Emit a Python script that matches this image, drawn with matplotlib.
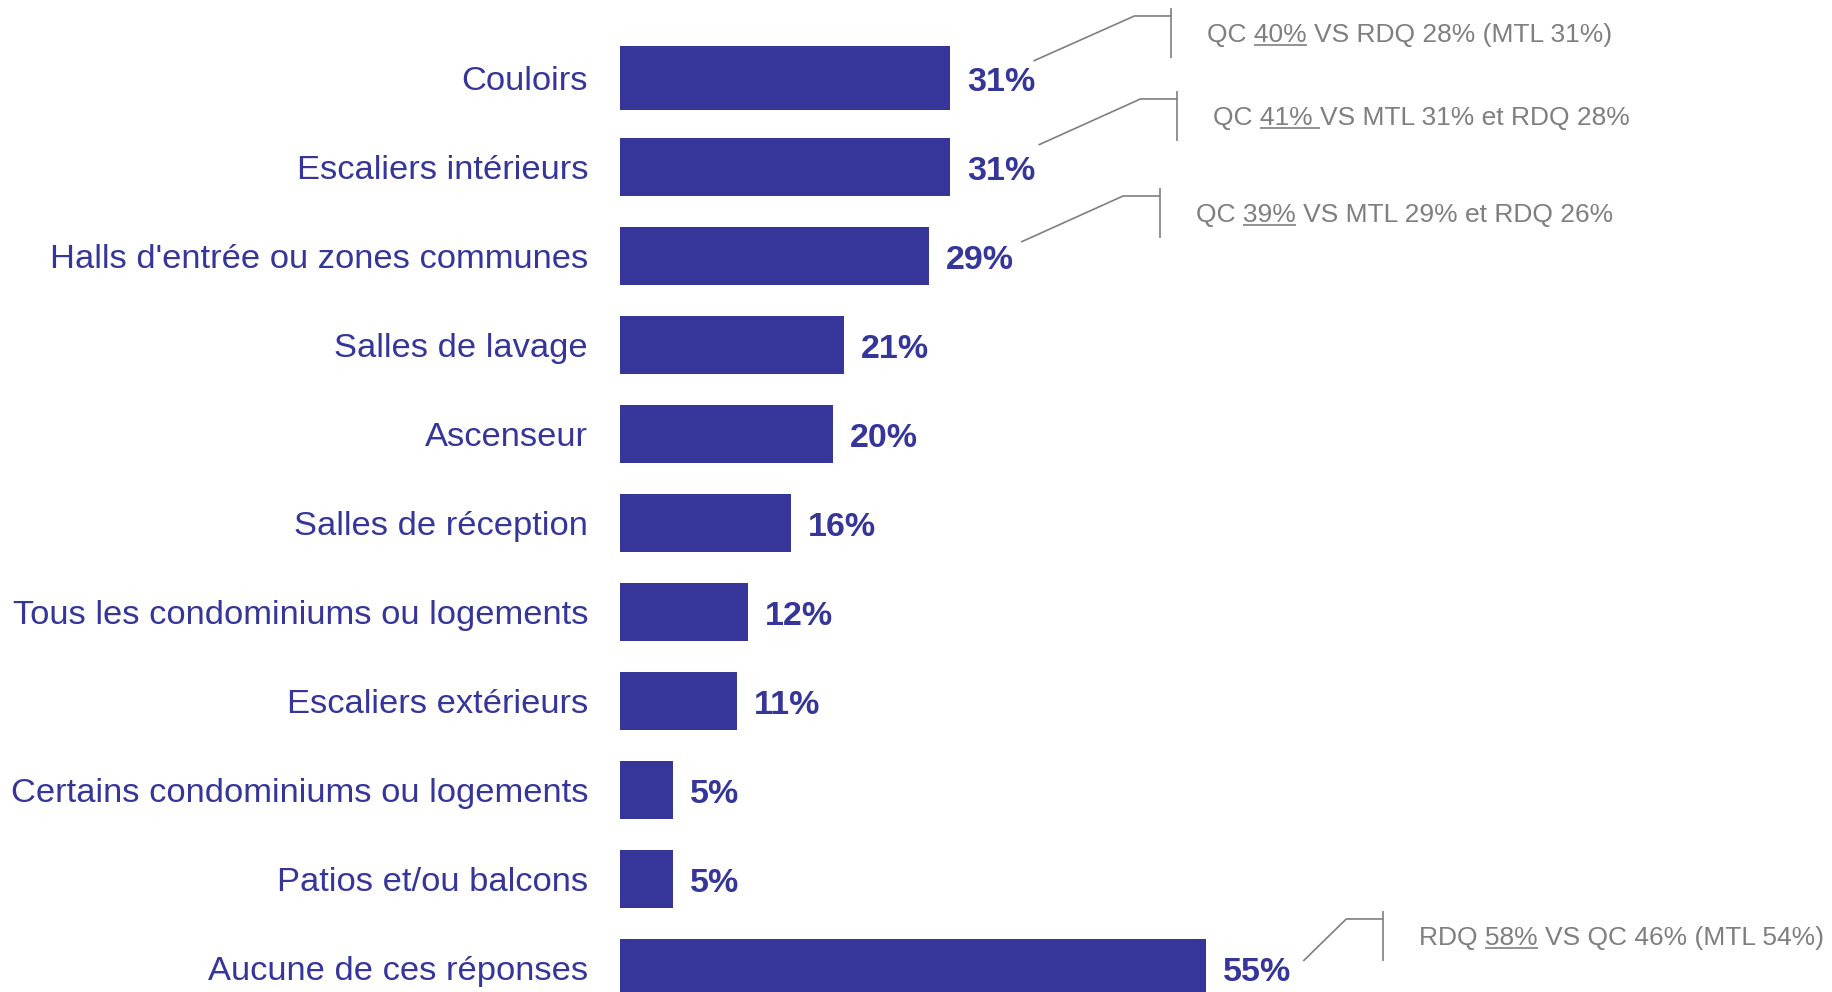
import matplotlib.pyplot as plt
from matplotlib.font_manager import FontProperties, findfont, get_font

# Survey results: share of respondents per area
categories = ["Couloirs", "Escaliers intérieurs", "Halls d'entrée ou zones communes",
              "Salles de lavage", "Ascenseur", "Salles de réception",
              "Tous les condominiums ou logements", "Escaliers extérieurs",
              "Certains condominiums ou logements", "Patios et/ou balcons",
              "Aucune de ces réponses"]
values = [31, 31, 29, 21, 20, 16, 12, 11, 5, 5, 55]

# Regional comparison notes: row, lead text, underlined figure, rest
note_rows = [0, 1, 2, 10]
note_lead = ["QC ", "QC ", "QC ", "RDQ "]
note_key = ["40%", "41% ", "39%", "58%"]
note_tail = [" VS RDQ 28% (MTL 31%)", "VS MTL 31% et RDQ 28%",
             " VS MTL 29% et RDQ 26%", " VS QC 46% (MTL 54%)"]
# pixel offsets from the bar end: connector start (dx, dy), note text (dx, dy)
note_offsets = [(83, -17, 257, -45), (88, -22, 263, -51),
                (92, -14, 267, -43), (97, -7, 213, -32)]

BLUE = '#35359a'
GREY = '#7f7f7f'
FONT = 'Liberation Sans'

plt.rcParams['font.family'] = [FONT, 'DejaVu Sans']
fig = plt.figure(figsize=(18.33, 9.92), dpi=100)
ax = fig.add_axes([620 / 1833, 0, 1213 / 1833, 1])
ax.set_xlim(0, 1213 / 10.66)
ax.set_ylim(10.27, -0.876)

ypos = list(range(len(categories)))
heights = [0.72] + [0.66] * (len(categories) - 1)
ax.barh(ypos, values, height=heights, color=BLUE)

ax.set_yticks(ypos)
ax.set_yticklabels(categories, fontsize=24.8, color=BLUE)
ax.tick_params(axis='y', length=0, pad=23)
ax.set_xticks([])
for s in ax.spines.values():
    s.set_visible(False)

# pixels per data unit
sx = ax.bbox.width / (ax.get_xlim()[1] - ax.get_xlim()[0])
sy = ax.bbox.height / abs(ax.get_ylim()[0] - ax.get_ylim()[1])

for y, v in zip(ypos, values):
    ax.text(v + 17 / sx, y + 5 / sy, f'{v}%', va='center', ha='left', fontsize=24.5,
            fontweight='bold', color=BLUE)

# glyph advances for placing the underline
note_size = 19
font = get_font(findfont(FontProperties(family=FONT, size=note_size)))
font.set_size(note_size, fig.dpi)


def advance(s):
    return sum(font.load_char(ord(c)).linearHoriAdvance for c in s) / 65536


cap = 0.716 * note_size * fig.dpi / 72
for row, lead, key, tail, (dxs, dys, dxt, dyt) in zip(note_rows, note_lead, note_key,
                                                      note_tail, note_offsets):
    x0 = values[row]
    px = lambda dx: x0 + dx / sx
    py = lambda dy: row + dy / sy
    # connector: diagonal, short horizontal, vertical bracket
    xv = dxt - 36
    xk = xv - 37
    yk = dyt - 17
    ax.plot([px(dxs), px(xk), px(xv)], [py(dys), py(yk), py(yk)],
            color=GREY, lw=1.2, clip_on=False, solid_capstyle='butt')
    ax.plot([px(xv), px(xv)], [py(dyt - 25), py(dyt + 25)],
            color=GREY, lw=1.2, clip_on=False, solid_capstyle='butt')
    base = dyt + cap / 2
    ax.text(px(dxt), py(base), lead + key + tail, ha='left', va='baseline',
            fontsize=note_size, color=GREY, clip_on=False)
    u0 = dxt + advance(lead)
    u1 = u0 + advance(key)
    ax.plot([px(u0), px(u1)], [py(base + 3), py(base + 3)], color=GREY,
            lw=1.2, clip_on=False, solid_capstyle='butt')

fig.savefig('out.png', dpi=100)
